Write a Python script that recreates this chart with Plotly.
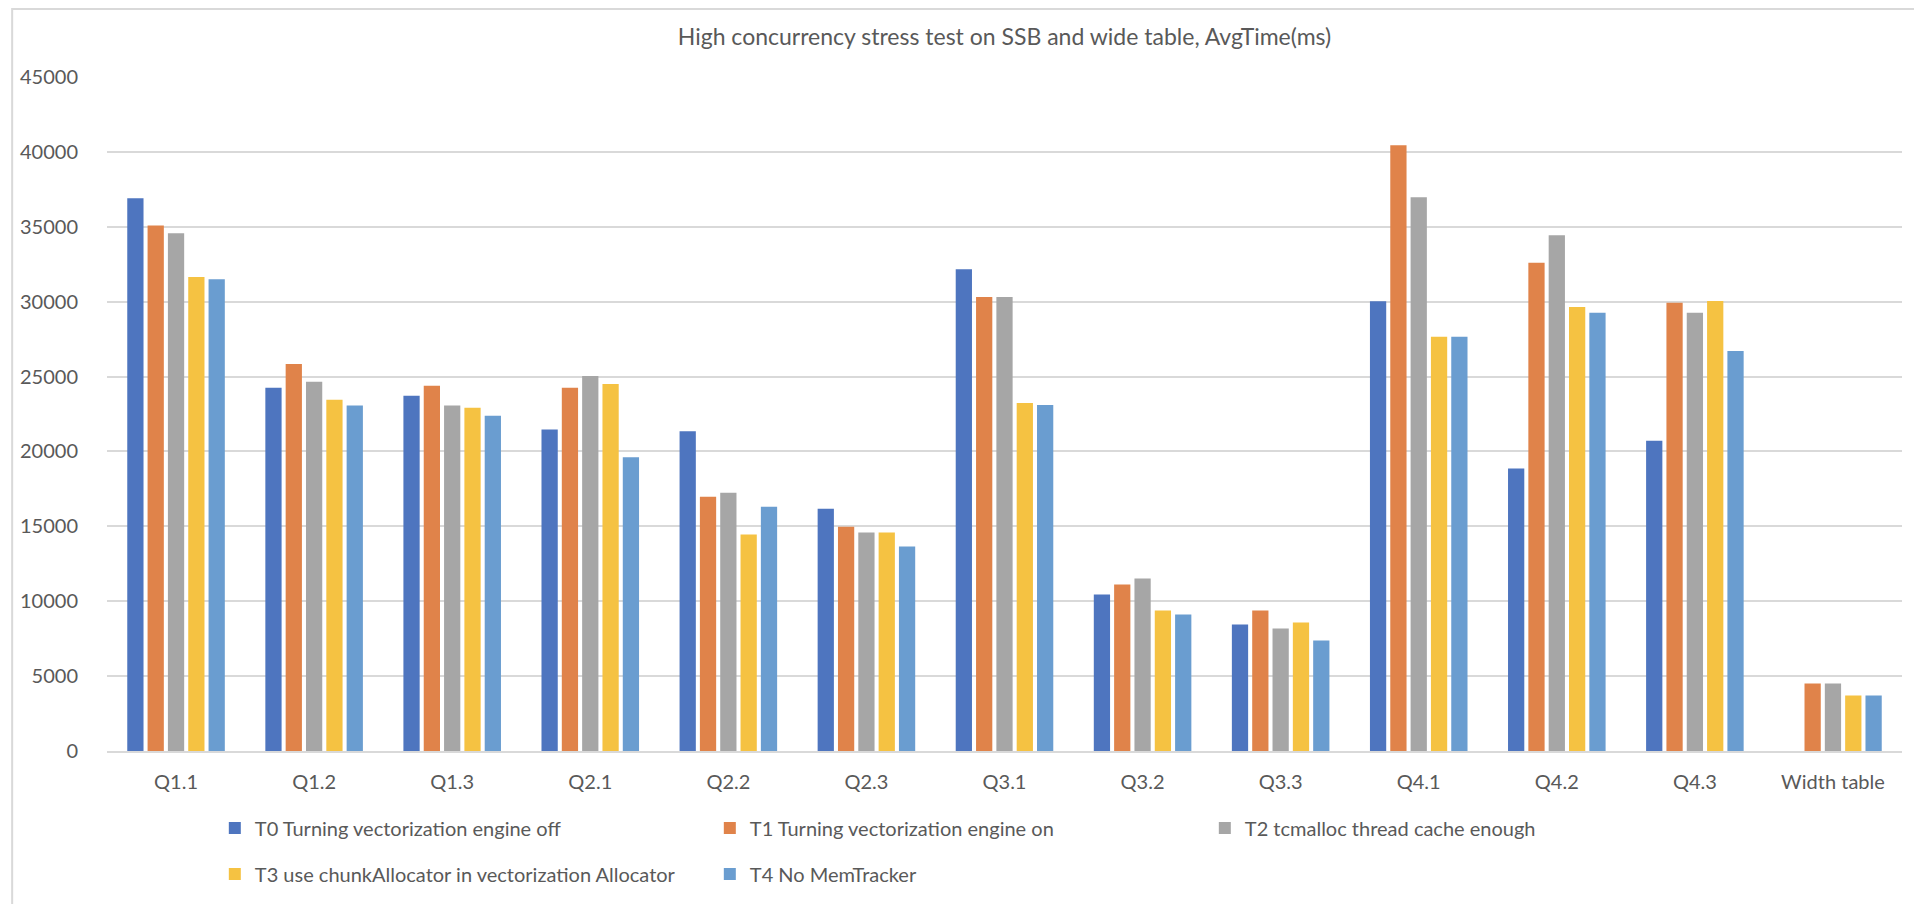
import plotly.graph_objects as go

categories = ["Q1.1", "Q1.2", "Q1.3", "Q2.1", "Q2.2", "Q2.3", "Q3.1", "Q3.2", "Q3.3",
              "Q4.1", "Q4.2", "Q4.3", "Width table"]

series_names = [
    "T0 Turning vectorization engine off",
    "T1 Turning vectorization engine on",
    "T2 tcmalloc thread cache enough",
    "T3 use chunkAllocator in vectorization Allocator",
    "T4 No MemTracker",
]

t0 = [36900, 24250, 23720, 21460, 21350, 16170, 32170, 10450, 8450, 30030, 18860, 20720, None]
t1 = [35090, 25840, 24380, 24250, 16970, 14980, 30310, 11120, 9380, 40440, 32590, 29920, 4500]
t2 = [34560, 24650, 23060, 25040, 17250, 14590, 30310, 11510, 8180, 36970, 34440, 29260, 4500]
t3 = [31640, 23450, 22920, 24510, 14450, 14590, 23240, 9380, 8580, 27650, 29650, 30040, 3700]
t4 = [31500, 23060, 22390, 19610, 16310, 13650, 23100, 9110, 7380, 27650, 29260, 26710, 3700]

series_values = [t0, t1, t2, t3, t4]
colors = ["#4E75BF", "#E0834A", "#A6A6A6", "#F5C242", "#6A9DD0"]
legend_ids = ["legend", "legend", "legend", "legend2", "legend2"]

y_ticks = [0, 5000, 10000, 15000, 20000, 25000, 30000, 35000, 40000, 45000]

FONT = "Lato, Open Sans, sans-serif"
TXT = "#595959"

fig = go.Figure()
for name, vals, col, lg in zip(series_names, series_values, colors, legend_ids):
    fig.add_trace(go.Bar(x=categories, y=vals, name=name, marker=dict(color=col, line=dict(width=0)),
                         legend=lg))

W, H = 1922, 904
ml, mr, mt, mb = 96, 28, 69, 161
pw, ph = W - ml - mr, H - mt - mb

def px_x(px):
    return (px - ml) / pw

def px_y(py):
    return (H - mb - py) / ph

fig.update_layout(
    width=W, height=H,
    margin=dict(l=ml, r=mr, t=mt, b=mb),
    paper_bgcolor="white", plot_bgcolor="white",
    font=dict(family=FONT, color=TXT, size=20),
    title=dict(text="High concurrency stress test on SSB and wide table, AvgTime(ms)",
               x=0.5, xanchor="center", xref="paper", y=1 - 29 / H, yanchor="middle",
               font=dict(family=FONT, size=23, color=TXT)),
    barmode="group", bargap=0.264, bargroupgap=0.2,
    xaxis=dict(showgrid=False, showline=True, linecolor="#d9d9d9", linewidth=2,
               ticks="", ticklabelstandoff=12, tickfont=dict(size=20, color=TXT), fixedrange=True),
    yaxis=dict(range=[0, 45000], tickvals=y_ticks, ticktext=[str(v) for v in y_ticks],
               showgrid=True, gridcolor="#d9d9d9", gridwidth=2, zeroline=False,
               showline=False, ticks="", ticklabelstandoff=28,
               tickfont=dict(size=20, color=TXT)),
    legend=dict(orientation="h", x=px_x(204), xanchor="left", y=px_y(820), yanchor="middle",
                entrywidth=450, entrywidthmode="pixels", font=dict(size=20, color=TXT),
                itemclick=False, bgcolor="rgba(0,0,0,0)", traceorder="normal"),
    legend2=dict(orientation="h", x=px_x(204), xanchor="left", y=px_y(866), yanchor="middle",
                 entrywidth=450, entrywidthmode="pixels",
                 font=dict(size=20, color=TXT), itemclick=False, bgcolor="rgba(0,0,0,0)",
                 traceorder="normal"),
    shapes=[dict(type="rect", xref="paper", yref="paper",
                 x0=px_x(1), x1=px_x(W - 4), y0=px_y(H - 2), y1=px_y(1),
                 line=dict(color="#d9d9d9", width=2), fillcolor="rgba(0,0,0,0)", layer="below")],
)

fig.write_html("out.html")
